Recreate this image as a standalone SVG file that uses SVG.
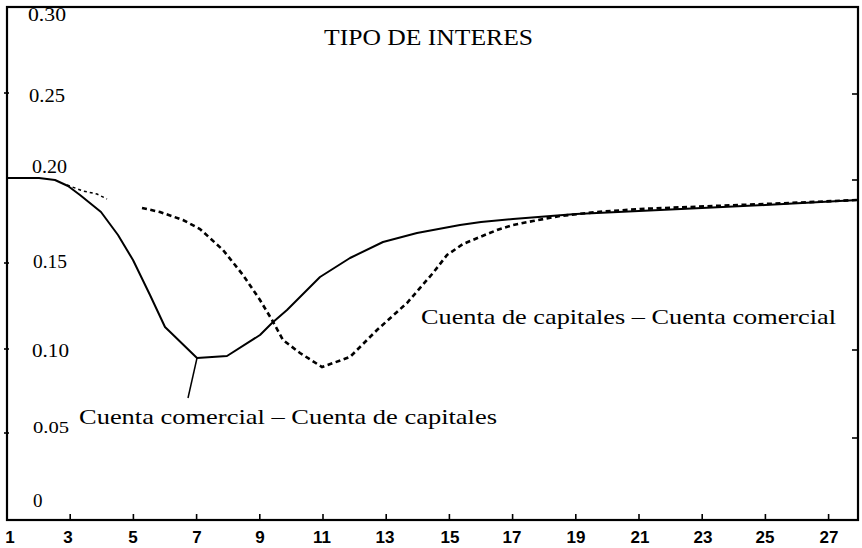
<svg xmlns="http://www.w3.org/2000/svg" width="862" height="548" viewBox="0 0 862 548">
<style>
.frame{fill:none;stroke:#000;stroke-width:2.2}
.tick{stroke:#000;stroke-width:1.6}
.ylab{font-family:"Liberation Serif","Times New Roman",serif;font-size:19px;fill:#000}
.xlab{font-family:"Liberation Sans",Arial,sans-serif;font-size:17px;font-weight:bold;fill:#000}
.lbl{font-family:"Liberation Serif","Times New Roman",serif;font-size:22px;fill:#000}
.title{font-family:"Liberation Serif","Times New Roman",serif;font-size:24px;fill:#000}
.solid{fill:none;stroke:#000;stroke-width:2;stroke-linejoin:round}
.dash{fill:none;stroke:#000;stroke-width:2.6;stroke-dasharray:5 3.5}
.dashthin{fill:none;stroke:#000;stroke-width:1.5;stroke-dasharray:3 3}
</style>
<rect width="862" height="548" fill="#fff"/>
<g id="axes">
<rect class="frame" x="7" y="7" width="851" height="513"/>
<g id="xticks">
<line class="tick" x1="70.2" y1="520" x2="70.2" y2="514"/>
<line class="tick" x1="133.4" y1="520" x2="133.4" y2="514"/>
<line class="tick" x1="196.6" y1="520" x2="196.6" y2="514"/>
<line class="tick" x1="259.8" y1="520" x2="259.8" y2="514"/>
<line class="tick" x1="323" y1="520" x2="323" y2="514"/>
<line class="tick" x1="386.2" y1="520" x2="386.2" y2="514"/>
<line class="tick" x1="449.4" y1="520" x2="449.4" y2="514"/>
<line class="tick" x1="512.6" y1="520" x2="512.6" y2="514"/>
<line class="tick" x1="575.8" y1="520" x2="575.8" y2="514"/>
<line class="tick" x1="639" y1="520" x2="639" y2="514"/>
<line class="tick" x1="702.2" y1="520" x2="702.2" y2="514"/>
<line class="tick" x1="765.4" y1="520" x2="765.4" y2="514"/>
<line class="tick" x1="828.6" y1="520" x2="828.6" y2="514"/>
</g>
<g id="yticks">
<line class="tick" x1="4" y1="93" x2="9" y2="93"/>
<line class="tick" x1="4" y1="263" x2="9" y2="263"/>
<line class="tick" x1="4" y1="349" x2="9" y2="349"/>
<line class="tick" x1="4" y1="433" x2="9" y2="433"/>
<line class="tick" x1="852" y1="94" x2="858" y2="94"/>
<line class="tick" x1="852" y1="180" x2="858" y2="180"/>
<line class="tick" x1="852" y1="350" x2="858" y2="350"/>
<line class="tick" x1="852" y1="438" x2="858" y2="438"/>
</g>
<g id="ylabels">
<text class="ylab" x="28" y="21" textLength="38" lengthAdjust="spacingAndGlyphs">0.30</text>
<text class="ylab" x="29" y="102" textLength="36" lengthAdjust="spacingAndGlyphs">0.25</text>
<text class="ylab" x="32" y="173" textLength="35" lengthAdjust="spacingAndGlyphs">0.20</text>
<text class="ylab" x="33" y="268" textLength="34" lengthAdjust="spacingAndGlyphs">0.15</text>
<text class="ylab" x="32" y="357" textLength="37" lengthAdjust="spacingAndGlyphs">0.10</text>
<text class="ylab" x="33" y="433" style="font-size:17px" textLength="36" lengthAdjust="spacingAndGlyphs">0.05</text>
<text class="ylab" x="33" y="507">0</text>
</g>
<g id="xlabels" text-anchor="middle">
<text class="xlab" x="10" y="543">1</text>
<text class="xlab" x="68" y="543">3</text>
<text class="xlab" x="133" y="543">5</text>
<text class="xlab" x="197" y="543">7</text>
<text class="xlab" x="260" y="543">9</text>
<text class="xlab" x="322" y="543">11</text>
<text class="xlab" x="385" y="543">13</text>
<text class="xlab" x="450" y="543">15</text>
<text class="xlab" x="512" y="543">17</text>
<text class="xlab" x="576" y="543">19</text>
<text class="xlab" x="640" y="543">21</text>
<text class="xlab" x="703" y="543">23</text>
<text class="xlab" x="765" y="543">25</text>
<text class="xlab" x="829" y="543">27</text>
</g>
</g>
<g id="title"><text class="title" x="324" y="45" textLength="209" lengthAdjust="spacingAndGlyphs">TIPO DE INTERES</text></g>
<g id="connectors">
<path id="curve-comercial" class="solid" d="M7,178 L39,178 L55,180 L68,186 L80,195 L101,212 L118,235 L133,260 L150,295 L165,327 L197,358 L227,356 L260,335 L272,323 L287,310 L320,277 L350,258 L383,242 L417,233 L460,225 L481,222 L513,219 L576,214 L639,211 L702,208 L765,205 L858,200"/>
<path id="curve-capitales-a" class="dashthin" d="M67,185 L83,191 L97,194 L107,199"/>
<path id="curve-capitales-b" class="dash" d="M142,208 L160,212 L183,220 L200,229 L223,250 L243,275 L260,300 L272,320 L283,340 L300,353 L322,367 L350,357 L377,330 L407,303 L433,273 L447,255 L463,244 L480,237 L497,230 L513,225 L533,221 L560,216 L597,212 L640,209 L713,206 L765,204 L858,200"/>
<line id="leader" x1="197" y1="358" x2="188" y2="398" stroke="#000" stroke-width="1.5"/>
</g>
<g id="label-capitales"><text class="lbl" x="421" y="324" textLength="415" lengthAdjust="spacingAndGlyphs">Cuenta de capitales – Cuenta comercial</text></g>
<g id="label-comercial"><text class="lbl" x="79" y="424" textLength="418" lengthAdjust="spacingAndGlyphs">Cuenta comercial – Cuenta de capitales</text></g>
</svg>
